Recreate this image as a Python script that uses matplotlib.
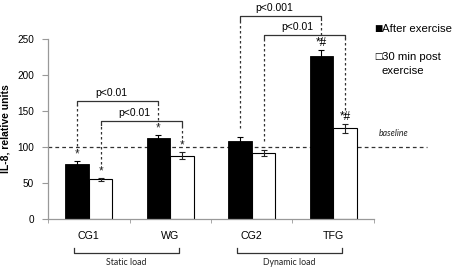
import matplotlib
matplotlib.use('Agg')
import matplotlib.pyplot as plt
import matplotlib.transforms as mtransforms
import numpy as np

plt.rcParams['font.family'] = ['Liberation Sans', 'DejaVu Sans']

groups = ['CG1', 'WG', 'CG2', 'TFG']
after_exercise = [77, 113, 109, 226]
after_err = [4, 4, 5, 9]
post_30min = [55, 88, 92, 126]
post_err = [2, 5, 4, 6]

# significance marks above bars (group index, series 0=after / 1=post, text)
marks = [(0, 0, '*'), (0, 1, '*'), (1, 0, '*'), (1, 1, '*'),
         (3, 0, '*#'), (3, 1, '*#')]

# comparisons: (group a, group b, series, label, bracket height)
comparisons = [(0, 1, 0, 'p<0.01', 164),
               (0, 1, 1, 'p<0.01', 136),
               (2, 3, 0, 'p<0.001', 282),
               (2, 3, 1, 'p<0.01', 256)]

load_groups = [('Static load', 0, 1), ('Dynamic load', 2, 3)]
baseline = 100
legend_labels = ['After exercise', '30 min post\nexercise']


def main():
    fig = plt.figure(figsize=(4.59, 2.69), dpi=100)
    ax = fig.add_axes([0.1046, 0.1859, 0.7102, 0.6691])

    x = np.arange(len(groups))
    w = 0.29
    xs = [x - w / 2, x + w / 2]
    tops = [np.array(after_exercise) + np.array(after_err),
            np.array(post_30min) + np.array(post_err)]

    ax.bar(xs[0], after_exercise, w, color='black', edgecolor='black', linewidth=0.6,
           yerr=after_err, error_kw=dict(ecolor='black', elinewidth=0.8, capsize=2, capthick=0.8))
    ax.bar(xs[1], post_30min, w, color='white', edgecolor='black', linewidth=0.8,
           yerr=post_err, error_kw=dict(ecolor='#222222', elinewidth=0.8, capsize=2, capthick=0.8))

    ax.set_xlim(-0.5, 3.5)
    ax.set_ylim(0, 250)
    ax.set_yticks([0, 50, 100, 150, 200, 250])
    ax.set_xticks(x)
    ax.set_xticklabels(groups, fontsize=7.7)
    ax.set_xticks(np.arange(-0.5, 4.0, 1.0), minor=True)
    ax.tick_params(axis='x', which='major', length=0, pad=9)
    ax.tick_params(axis='x', which='minor', length=3, color='#999999', direction='out')
    ax.tick_params(axis='y', length=4, color='#999999', labelsize=7.2, pad=6)
    for s in ['top', 'right']:
        ax.spines[s].set_visible(False)
    for s in ['left', 'bottom']:
        ax.spines[s].set_color('#999999')
        ax.spines[s].set_linewidth(0.9)

    ax.set_ylabel('IL-8, relative units', fontsize=7.5, fontweight='bold')
    ax.yaxis.set_label_coords(-0.116, 0.5)

    # baseline
    ax.plot([-0.5, 4.15], [baseline, baseline], ls=(0, (3, 2.5)), color='#333333',
            lw=0.9, clip_on=False, zorder=0.5)
    ax.text(3.74, 119, 'baseline', fontsize=6.3, style='italic', family=['Lato', 'DejaVu Sans'],
            ha='center', va='center', color='#222222')

    # significance marks
    for gi, si, txt in marks:
        ax.text(xs[si][gi], tops[si][gi] + 1, txt, fontsize=8.5, ha='center', va='bottom',
                color='#333333' if txt == '*' else 'black', clip_on=False)

    # p-value brackets
    for a, b, si, label, h in comparisons:
        xa, xb = xs[si][a], xs[si][b]
        ya, yb = tops[si][a] + 13, tops[si][b] + 13
        ax.plot([xa, xa, xb, xb], [h - 5, h, h, h - 5], color='#333333', lw=0.9,
                clip_on=False, solid_joinstyle='round')
        ax.plot([xa, xa], [ya, h - 5], color='#333333', lw=0.9, ls=(0, (2, 2)), clip_on=False)
        ax.plot([xb, xb], [yb, h - 5], color='#333333', lw=0.9, ls=(0, (2, 2)), clip_on=False)
        ax.text(xa + (xb - xa) * 0.42, h + 4, label, fontsize=7.5, ha='center',
                va='bottom', clip_on=False)

    # load-type brackets under the axis
    trans = mtransforms.blended_transform_factory(ax.transData, ax.transAxes)
    for label, a, b in load_groups:
        xa, xb = xs[0][a] - 0.04, xs[1][b] - 0.04
        ax.plot([xa, xa, xb, xb], [-0.16, -0.19, -0.19, -0.16], color='#333333', lw=0.9,
                transform=trans, clip_on=False)
        ax.text((xa + xb) / 2, -0.24, label, fontsize=6.3, family=['Lato', 'DejaVu Sans'],
                ha='center', va='center', transform=trans, color='#222222')

    # legend
    fig.text(374 / 459, 1 - 29 / 269, '\u25a0', fontsize=6.3, family='DejaVu Sans',
             va='center', ha='left')
    fig.text(382 / 459, 1 - 29 / 269, legend_labels[0], fontsize=8.2, va='center', ha='left')
    fig.text(374 / 459, 1 - 57 / 269, '\u25a1', fontsize=6.3, family='DejaVu Sans',
             va='center', ha='left')
    fig.text(382 / 459, 1 - 64 / 269, legend_labels[1], fontsize=8.2, va='center', ha='left',
             linespacing=1.45)

    fig.savefig('out.png', dpi=100)


if __name__ == '__main__':
    main()
